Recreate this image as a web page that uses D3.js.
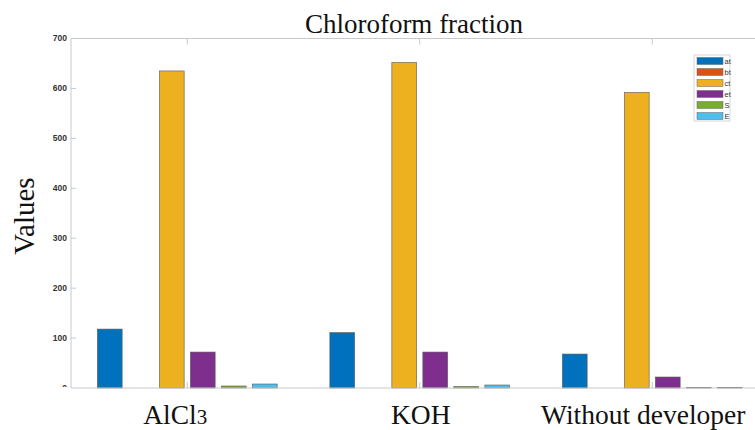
<!DOCTYPE html>
<html><head><meta charset="utf-8">
<script src="https://cdn.jsdelivr.net/npm/d3@7/dist/d3.min.js"></script>
<style>body{margin:0;background:#fff}svg{display:block}</style>
</head><body>
<svg id="c" width="755" height="430"></svg>
<script>
const categories = ["AlCl3", "KOH", "Without developer"];
const series = ["at", "bt", "ct", "et", "S", "E"];
const colors = ["#0072BD", "#D95319", "#EDB120", "#7E2F8E", "#77AC30", "#4DBEEE"];
const valuesAlCl3 = [118, 0, 635, 72, 4, 8];
const valuesKOH = [111, 0, 652, 72, 3, 6];
const valuesWithout = [68, 0, 592, 22, 1, 1];
const yTicks = [0, 100, 200, 300, 400, 500, 600, 700];
const values = [valuesAlCl3, valuesKOH, valuesWithout];

const svg = d3.select("#c");
const x = d3.scaleLinear().domain([0.5, 3.5]).range([71, 768.5]);
const y = d3.scaleLinear().domain([0, 700]).range([388, 38.5]);
const lineCol = "#c8c8c8";

svg.append("defs").append("clipPath").attr("id","clipL")
  .append("rect").attr("x",0).attr("y",0).attr("width",755).attr("height",387);

// bars
categories.forEach((cat, ci) => {
  const c = ci + 1;
  const inner = d3.scaleBand().domain(series)
    .range([x(c - 0.4), x(c + 0.4)]).paddingInner(0.2).paddingOuter(0.1);
  series.forEach((s, si) => {
    const v = values[ci][si];
    if (v <= 0) return;
    svg.append("rect")
      .attr("x", inner(s)).attr("width", inner.bandwidth())
      .attr("y", y(v)).attr("height", y(0) - y(v))
      .attr("fill", colors[si]).attr("stroke", "#5a5a5a").attr("stroke-width", 0.6);
  });
});

// frame lines
svg.append("line").attr("x1", x(0.5)).attr("x2", 755).attr("y1", y(700)).attr("y2", y(700)).attr("stroke", lineCol);
svg.append("line").attr("x1", x(0.5)).attr("x2", 755).attr("y1", y(0)).attr("y2", y(0)).attr("stroke", lineCol);
svg.append("line").attr("x1", x(0.5)).attr("x2", x(0.5)).attr("y1", y(700)).attr("y2", y(0)).attr("stroke", lineCol);

// y axis ticks
const yg = svg.append("g").attr("clip-path","url(#clipL)");
yTicks.forEach(t => {
  yg.append("line").attr("x1", x(0.5)).attr("x2", x(0.5) + 5).attr("y1", y(t)).attr("y2", y(t)).attr("stroke", lineCol);
  yg.append("text").attr("x", x(0.5) - 4).attr("y", y(t)).attr("dy", "0.35em")
    .attr("text-anchor", "end").attr("font-family", "Liberation Sans, Arial, sans-serif")
    .attr("font-size", 8.5).attr("font-weight", "bold").attr("fill", "#333").text(t);
});

// x ticks (inside, top and bottom)
categories.forEach((cat, ci) => {
  const cx = x(ci + 1);
  svg.append("line").attr("x1", cx).attr("x2", cx).attr("y1", y(0)).attr("y2", y(0) - 6).attr("stroke", lineCol);
  svg.append("line").attr("x1", cx).attr("x2", cx).attr("y1", y(700)).attr("y2", y(700) + 6).attr("stroke", lineCol);
});

// x labels
const serif = "Liberation Serif, Times New Roman, serif";
const labelShift = [-12, 1, -9];
const xl = svg.append("g");
categories.forEach((cat, ci) => {
  const t = xl.append("text").attr("x", x(ci + 1) + labelShift[ci]).attr("y", 424)
    .attr("text-anchor", "middle").attr("font-family", serif).attr("font-size", 27.5).attr("fill", "#111");
  if (cat === "AlCl3") {
    t.append("tspan").text("AlCl");
    t.append("tspan").attr("font-size", 21).text("3");
  } else t.text(cat);
});

// title
svg.append("text").attr("x", 414).attr("y", 33).attr("text-anchor", "middle")
  .attr("font-family", serif).attr("font-size", 27).attr("fill", "#111").text("Chloroform fraction");

// y label
svg.append("text").attr("transform", "translate(34,216) rotate(-90)").attr("text-anchor", "middle")
  .attr("font-family", serif).attr("font-size", 29).attr("fill", "#111").text("Values");

// legend
const lg = svg.append("g");
lg.append("rect").attr("x", 694).attr("y", 55).attr("width", 36).attr("height", 66)
  .attr("fill", "#fff").attr("stroke", "#ccc").attr("stroke-width", 0.8);
series.forEach((s, si) => {
  const yy = 57.5 + si * 11;
  lg.append("rect").attr("x", 697).attr("y", yy).attr("width", 26).attr("height", 7)
    .attr("fill", colors[si]).attr("stroke", "#666").attr("stroke-width", 0.5);
  lg.append("text").attr("x", 724.5).attr("y", yy + 3.8).attr("dy", "0.35em")
    .attr("font-family", "Liberation Sans, Arial, sans-serif").attr("font-size", 7.5).attr("fill", "#333").text(s);
});
</script>
</body></html>
